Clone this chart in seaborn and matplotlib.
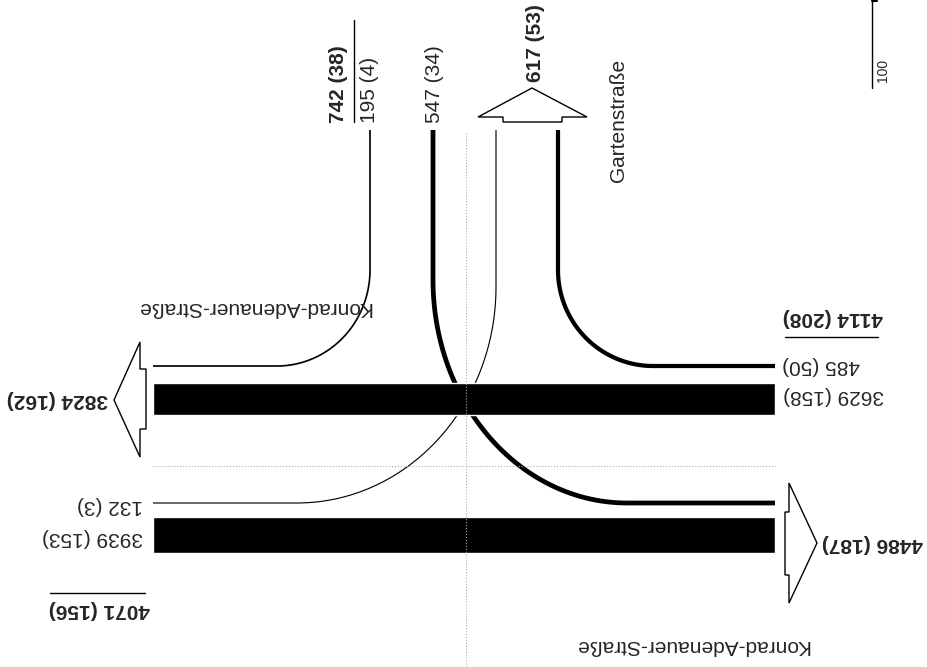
import numpy as np
import pandas as pd
import matplotlib
matplotlib.use("Agg")
import matplotlib.pyplot as plt
from matplotlib.patches import Polygon
import seaborn as sns

# Verkehrsstärken Kfz/24h (Schwerverkehr in Klammern)
# Abbieger: Nord->West, Nord->Ost, West->Nord, Ost->Nord
turn_kfz = [195, 547, 132, 485]
turn_sv = [4, 34, 3, 50]
# Geradeaus: Ost->West, West->Ost
through_kfz = [3629, 3939]
through_sv = [158, 153]

street_main = "Konrad-Adenauer-Straße"
street_side = "Gartenstraße"
scale_label = "100"

# Summen der Knotenarme
north_in = (turn_kfz[0] + turn_kfz[1], turn_sv[0] + turn_sv[1])
north_out = (turn_kfz[2] + turn_kfz[3], turn_sv[2] + turn_sv[3])
east_in = (turn_kfz[3] + through_kfz[0], turn_sv[3] + through_sv[0])
west_out = (turn_kfz[0] + through_kfz[0], turn_sv[0] + through_sv[0])
west_in = (turn_kfz[2] + through_kfz[1], turn_sv[2] + through_sv[1])
east_out = (turn_kfz[1] + through_kfz[1], turn_sv[1] + through_sv[1])

PX_PER_KFZ = 1 / 115.0  # Strichbreite in Pixel je Kfz
PT = 0.72               # Pixel -> Punkt bei 100 dpi


def lab(v):
    return f"{v[0]} ({v[1]})"


def turn_path(x0, y_top, y_bend, x_end, y_end, x_far):
    t = np.linspace(0, np.pi / 2, 60)
    xs = [x0] + list(x_end + (x0 - x_end) * np.cos(t)) + [x_far]
    ys = [y_top] + list(y_bend + (y_end - y_bend) * np.sin(t)) + [y_end]
    return pd.DataFrame({"x": xs, "y": ys})


sns.set_theme(style="white")
plt.rcParams["font.family"] = ["Liberation Sans", "DejaVu Sans"]

fig = plt.figure(figsize=(9.28, 6.67), dpi=100)
ax = fig.add_axes([0, 0, 1, 1])
ax.set_xlim(0, 928)
ax.set_ylim(667, 0)
ax.axis("off")

# Abbiegeströme (Geometrie: x0, y_top, y_bend, x_end, y_end, x_far)
geom = [
    (370, 130, 270, 277, 366, 153),
    (433, 130, 280, 627, 503, 775),
    (496, 130, 287, 297, 503, 153),
    (558, 130, 270, 653, 366, 775),
]
for g, v in zip(geom, turn_kfz):
    df = turn_path(*g)
    sns.lineplot(data=df, x="x", y="y", sort=False, estimator=None, ax=ax,
                 color="black", linewidth=max(v * PX_PER_KFZ, 1.0) * PT,
                 solid_capstyle="butt")

# Geradeausströme als Balken
bar_y = [399, 535]
ax.barh(bar_y, [622, 622], left=153,
        height=[v / 110.0 for v in through_kfz], color="black", zorder=3)

# Hilfslinien Knotenmitte
ax.plot([466, 466], [133, 667], color="#aaaaaa", lw=0.8, ls=":", zorder=4)
ax.plot([153, 775], [466, 466], color="#aaaaaa", lw=0.8, ls=":", zorder=4)

# Pfeile der abfließenden Ströme
arrows = [
    [(503, 122), (503, 117), (478, 117), (532, 88), (587, 117), (562, 117), (562, 122)],
    [(146, 369), (140, 369), (140, 342), (114, 400), (140, 457), (140, 429), (146, 429)],
    [(785, 512), (789, 512), (789, 483), (817, 543), (789, 603), (789, 575), (785, 575)],
]
for pts in arrows:
    ax.add_patch(Polygon(pts, closed=True, facecolor="white", edgecolor="black",
                         lw=1.0, zorder=5))

fs = 15
# Nordarm (senkrecht)
ax.text(339, 123, lab(north_in), rotation=90, ha="center", va="bottom",
        fontsize=fs, fontweight="bold")
ax.plot([354, 354], [20, 122], color="black", lw=1)
ax.text(370, 123, lab((turn_kfz[0], turn_sv[0])), rotation=90, ha="center",
        va="bottom", fontsize=fs)
ax.text(435, 123, lab((turn_kfz[1], turn_sv[1])), rotation=90, ha="center",
        va="bottom", fontsize=fs)
ax.text(536, 82, lab(north_out), rotation=90, ha="center", va="bottom",
        fontsize=fs, fontweight="bold")
ax.text(619, 182, street_side, rotation=90, ha="center", va="bottom", fontsize=fs)

# Ostarm (kopfstehend)
ax.text(783, 317, lab(east_in), rotation=180, ha="left", va="center",
        fontsize=fs, fontweight="bold")
ax.plot([785, 878], [337, 337], color="black", lw=1)
ax.text(782, 365, lab((turn_kfz[3], turn_sv[3])), rotation=180, ha="left",
        va="center", fontsize=fs)
ax.text(783, 396, lab((through_kfz[0], through_sv[0])), rotation=180, ha="left",
        va="center", fontsize=fs)
ax.text(822, 544, lab(east_out), rotation=180, ha="left", va="center",
        fontsize=fs, fontweight="bold")

# Westarm (kopfstehend)
ax.text(108, 399, lab(west_out), rotation=180, ha="right", va="center",
        fontsize=fs, fontweight="bold")
ax.text(143, 505, lab((turn_kfz[2], turn_sv[2])), rotation=180, ha="right",
        va="center", fontsize=fs)
ax.text(143, 538, lab((through_kfz[1], through_sv[1])), rotation=180, ha="right",
        va="center", fontsize=fs)
ax.text(150, 610, lab(west_in), rotation=180, ha="right", va="center",
        fontsize=fs, fontweight="bold")
ax.plot([50, 145], [593, 593], color="black", lw=1)

# Straßennamen
ax.text(254, 307, street_main, rotation=180, ha="center", va="center", fontsize=fs)
ax.text(692, 646, street_main, rotation=180, ha="center", va="center", fontsize=fs)

# Maßstab
ax.plot([872, 872], [0, 88], color="black", lw=1)
ax.plot([872, 877], [1, 1], color="black", lw=1.5)
ax.text(876, 82, scale_label, rotation=90, ha="left", va="bottom", fontsize=10)

fig.savefig("out.png", dpi=100)
